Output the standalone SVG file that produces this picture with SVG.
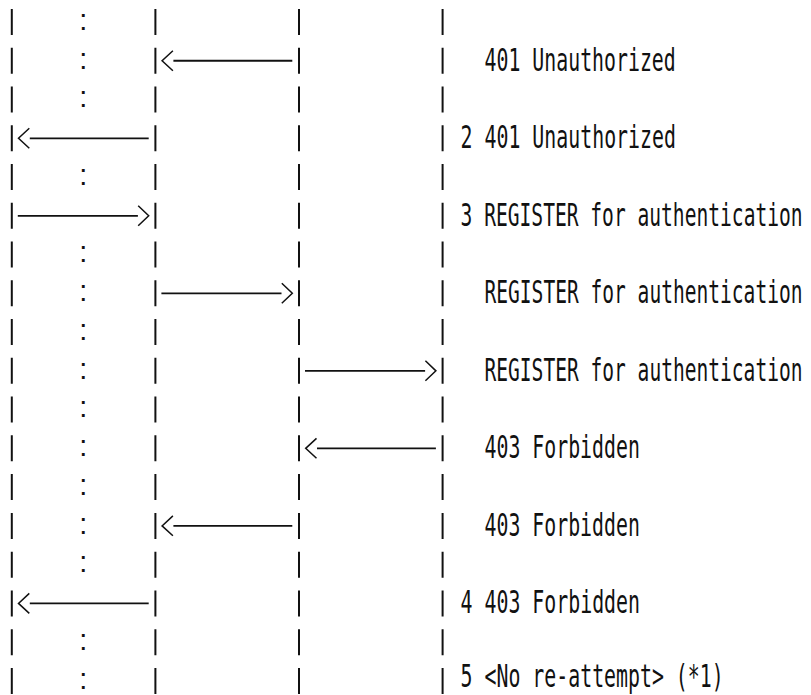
<svg xmlns="http://www.w3.org/2000/svg" width="811" height="695" viewBox="0 0 811 695">
<style>
.life{stroke:#111;stroke-width:2;stroke-dasharray:26 12.76;fill:none}
.msg{stroke:#111;stroke-width:1.8;fill:none}
.head{stroke:#111;stroke-width:1.5;fill:none;stroke-linejoin:miter}
.lbl{font-family:"DejaVu Sans Mono",monospace;font-size:20px;fill:#111}
.col{font-family:"Liberation Sans",Arial,sans-serif;font-size:29px;fill:#111;text-anchor:middle}
</style>
<rect width="811" height="695" fill="#fff"/>
<g id="lifeline-1"><line class="life" x1="11.8" y1="9" x2="11.8" y2="695"/></g>
<g id="lifeline-2"><line class="life" x1="155.4" y1="9" x2="155.4" y2="695"/></g>
<g id="lifeline-3"><line class="life" x1="299" y1="9" x2="299" y2="695"/></g>
<g id="lifeline-4"><line class="life" x1="442.6" y1="9" x2="442.6" y2="695"/></g>
<g id="marker-column">
<text class="col" x="83.3" y="29.8">:</text>
<text class="col" x="83.3" y="68.5">:</text>
<text class="col" x="83.3" y="107.3">:</text>
<text class="col" x="83.3" y="184.8">:</text>
<text class="col" x="83.3" y="262.3">:</text>
<text class="col" x="83.3" y="301.1">:</text>
<text class="col" x="83.3" y="339.8">:</text>
<text class="col" x="83.3" y="378.6">:</text>
<text class="col" x="83.3" y="417.4">:</text>
<text class="col" x="83.3" y="456.1">:</text>
<text class="col" x="83.3" y="494.9">:</text>
<text class="col" x="83.3" y="533.6">:</text>
<text class="col" x="83.3" y="572.4">:</text>
<text class="col" x="83.3" y="649.9">:</text>
<text class="col" x="83.3" y="688.7">:</text>
</g>
<g id="connectors">
<path class="msg" d="M173.4,60.76H292.3"/><path class="head" d="M172.9,50.8L162.1,60.76L172.9,70.7"/>
<path class="msg" d="M29.8,138.28H148.7"/><path class="head" d="M29.3,128.3L18.5,138.28L29.3,148.2"/>
<path class="msg" d="M17.8,215.8H137.9"/><path class="head" d="M138.2,205.8L148.7,215.8L138.2,225.8"/>
<path class="msg" d="M161.4,293.32H281.5"/><path class="head" d="M281.8,283.3L292.3,293.32L281.8,303.3"/>
<path class="msg" d="M305,370.84H425.1"/><path class="head" d="M425.4,360.8L435.9,370.84L425.4,380.8"/>
<path class="msg" d="M317,448.36H435.9"/><path class="head" d="M316.5,438.4L305.7,448.36L316.5,458.3"/>
<path class="msg" d="M173.4,525.88H292.3"/><path class="head" d="M172.9,515.9L162.1,525.88L172.9,535.8"/>
<path class="msg" d="M29.8,603.4H148.7"/><path class="head" d="M29.3,593.4L18.5,603.4L29.3,613.4"/>
</g>
<g id="labels" transform="scale(1,1.6)">
<text class="lbl" x="484.5" y="44.225" textLength="191.3" lengthAdjust="spacingAndGlyphs">401 Unauthorized</text>
<text class="lbl" x="460.6" y="92.675" textLength="215.3" lengthAdjust="spacingAndGlyphs">2 401 Unauthorized</text>
<text class="lbl" x="460.6" y="141.125" textLength="342" lengthAdjust="spacingAndGlyphs">3 REGISTER for authentication</text>
<text class="lbl" x="484.5" y="189.575" textLength="318" lengthAdjust="spacingAndGlyphs">REGISTER for authentication</text>
<text class="lbl" x="484.5" y="238.025" textLength="318" lengthAdjust="spacingAndGlyphs">REGISTER for authentication</text>
<text class="lbl" x="484.5" y="286.475" textLength="155.4" lengthAdjust="spacingAndGlyphs">403 Forbidden</text>
<text class="lbl" x="484.5" y="334.925" textLength="155.4" lengthAdjust="spacingAndGlyphs">403 Forbidden</text>
<text class="lbl" x="460.6" y="383.375" textLength="179.4" lengthAdjust="spacingAndGlyphs">4 403 Forbidden</text>
<text class="lbl" x="460.6" y="429.69" textLength="263.1" lengthAdjust="spacingAndGlyphs">5 &lt;No re-attempt&gt; (*1)</text>
</g>
</svg>
